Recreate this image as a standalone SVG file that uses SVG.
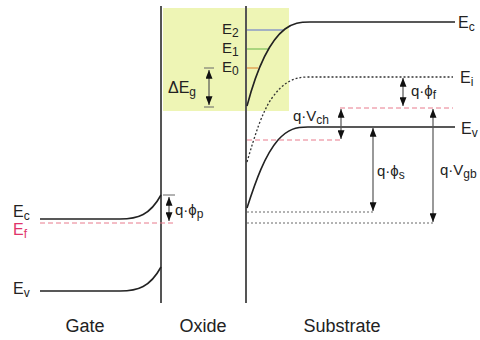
<svg xmlns="http://www.w3.org/2000/svg" width="480" height="340" viewBox="0 0 480 340">
<style>
text{font-family:"Liberation Sans",Arial,sans-serif;fill:#222}
.lbl{font-size:18px}
.e{font-size:16px}
.es{font-size:15px}
.q{font-size:15px}
.sub{font-size:12px}
.band{fill:none;stroke:#222;stroke-width:1.6}
.dot{fill:none;stroke:#333;stroke-width:1.3;stroke-dasharray:2,2}
.thin{fill:none;stroke:#666;stroke-width:1;stroke-dasharray:2,2}
.red{fill:none;stroke:#e87b8c;stroke-width:1;stroke-dasharray:5,3}
.wall{stroke:#555;stroke-width:2}
.arr{stroke:#555;stroke-width:1.2;marker-start:url(#ah);marker-end:url(#ah)}
.tick{stroke:#666;stroke-width:1}
</style>
<defs>
<marker id="ah" viewBox="0 0 10 8" refX="10" refY="4" markerWidth="9" markerHeight="7" markerUnits="userSpaceOnUse" orient="auto-start-reverse">
<path d="M0,0 L10,4 L0,8 z" fill="#111"/>
</marker>
</defs>
<rect x="163" y="8" width="126" height="103" fill="#eef5b5"/>
<g id="walls">
<line class="wall" x1="161" y1="6" x2="161" y2="303"/>
<line class="wall" x1="246" y1="6" x2="246" y2="303"/>
</g>
<g id="levels">
<line x1="247" y1="30" x2="283" y2="30" stroke="#5a6fd0" stroke-width="1.2"/>
<line x1="247" y1="49" x2="268" y2="49" stroke="#7cbf5a" stroke-width="1.2"/>
<line x1="247" y1="68" x2="258" y2="68" stroke="#e09040" stroke-width="1.2"/>
</g>
<g id="gate">
<path class="band" d="M40,219 L120,219 C138,219 150,215 161,195"/>
<path class="band" d="M40,291 L120,291 C138,291 150,287 161,267"/>
<line class="red" x1="40" y1="223" x2="175" y2="223"/>
</g>
<g id="substrate">
<path class="band" d="M247,106 C256,72 268,42 285,29 C293,23 300,22 310,22 L455,22"/>
<path class="dot" d="M247,162 C255,135 262,112 272,98 C282,84 292,77 308,77 L453,77"/>
<path class="band" d="M247,208 C256,180 265,155 278,140 C288,129 296,127 308,127 L455,127"/>
<line class="red" x1="247" y1="140" x2="343" y2="140"/>
<line class="red" x1="340" y1="108" x2="453" y2="108"/>
<line class="thin" x1="247" y1="212" x2="373" y2="212"/>
<line class="thin" x1="247" y1="223" x2="435" y2="223"/>
</g>
<g id="connectors">
<line class="tick" x1="204" y1="68" x2="214" y2="68"/>
<line class="tick" x1="204" y1="107" x2="214" y2="107"/>
<line class="arr" x1="209" y1="70" x2="209" y2="105"/>
<line class="tick" x1="163" y1="195" x2="175" y2="195"/>
<line class="arr" x1="169" y1="197" x2="169" y2="221"/>
<line class="arr" x1="403" y1="78" x2="403" y2="106"/>
<line class="arr" x1="341" y1="109" x2="341" y2="139"/>
<line class="arr" x1="373" y1="128" x2="373" y2="211"/>
<line class="arr" x1="433" y1="109" x2="433" y2="222"/>
</g>
<g id="labels">
<text class="e" x="13" y="217">E<tspan class="sub" dy="3">c</tspan></text>
<text class="e" x="13" y="235" style="fill:#e0336a">E<tspan class="sub" dy="3" style="fill:#e0336a">f</tspan></text>
<text class="e" x="13" y="294">E<tspan class="sub" dy="3">v</tspan></text>
<text class="e" x="458" y="28">E<tspan class="sub" dy="3">c</tspan></text>
<text class="e" x="460" y="83">E<tspan class="sub" dy="3">i</tspan></text>
<text class="e" x="461" y="134">E<tspan class="sub" dy="3">v</tspan></text>
<text class="es" x="222" y="34">E<tspan class="sub" dy="3">2</tspan></text>
<text class="es" x="222" y="53">E<tspan class="sub" dy="3">1</tspan></text>
<text class="es" x="222" y="72">E<tspan class="sub" dy="3">0</tspan></text>
<text class="e" x="168" y="93">ΔE<tspan class="sub" dy="3">g</tspan></text>
<text class="q" x="175" y="215">q·ϕ<tspan class="sub" dy="3">p</tspan></text>
<text class="q" x="411" y="96">q·ϕ<tspan class="sub" dy="3">f</tspan></text>
<text class="q" x="293" y="121">q·V<tspan class="sub" dy="3">ch</tspan></text>
<text class="q" x="377" y="176">q·ϕ<tspan class="sub" dy="3">s</tspan></text>
<text class="q" x="440" y="175">q·V<tspan class="sub" dy="3">gb</tspan></text>
<text class="lbl" x="85" y="332" text-anchor="middle">Gate</text>
<text class="lbl" x="203" y="332" text-anchor="middle">Oxide</text>
<text class="lbl" x="342" y="332" text-anchor="middle">Substrate</text>
</g>
</svg>
